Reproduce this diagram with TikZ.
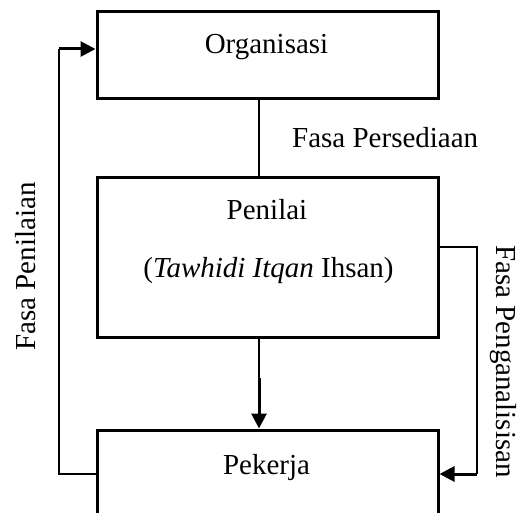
\documentclass[tikz,border=0pt]{standalone}
\usepackage{fontspec}
\setmainfont{Liberation Serif}
\usetikzlibrary{arrows.meta,calc}
\begin{document}
\begin{tikzpicture}[x=1pt,y=-1pt,
 box/.style={draw,line width=3pt,rectangle,inner sep=0,minimum width=341pt},
 txt/.style={font=\fontsize{29}{34}\selectfont,inner sep=0},
 thinline/.style={line width=1.3pt},
 thickline/.style={line width=3pt},
 tip/.style={-{Triangle[length=15pt,width=15pt]}}]
\useasboundingbox (0,0) rectangle (519,513);
\clip (0,0) rectangle (519,513);
\node[box,minimum height=87pt] (org) at (267.5,55.5) {};
\node[box,minimum height=159pt] (pen) at (267.5,257.5) {};
\node[box,minimum height=110pt] (pek) at (267.5,485) {};
\node[txt,anchor=base] (orgt) at (266.5,54) {Organisasi};
\node[txt,anchor=base west] (persed) at (292,148) {Fasa Persediaan};
\node[txt,anchor=base] (pent) at (267,219) {Penilai};
\node[txt,anchor=base] (tih) at (268.5,277) {(\textit{Tawhidi Itqan} Ihsan)};
\node[txt,anchor=base] (pekt) at (266.5,474) {Pekerja};
\node[txt,anchor=base,rotate=90] (fpen) at (35,266.5) {Fasa Penilaian};
\node[txt,anchor=base,rotate=-90] (fpeng) at (496,361.5) {Fasa Penganalisisan};
% connectors
\draw[thinline] ([xshift=-8.5pt]org.south) -- ([xshift=-8.5pt]pen.north);
\coordinate (m) at (259,378);
\draw[thinline] ([xshift=-8.5pt]pen.south) -- (m);
\draw[thickline,tip] (m) -- ([xshift=-8.5pt]pek.north);
\coordinate (lb) at (59,474);
\coordinate (lt) at (59,49);
\draw[thinline] (lb -| pek.west) -- (lb) -- (lt);
\draw[thickline,tip] (lt) -- (lt -| org.west);
\coordinate (rt) at (477,247);
\coordinate (rb) at (477,474);
\draw[thinline] (rt -| pen.east) -- (rt) -- (rb);
\draw[thickline,tip] (rb) -- (rb -| pek.east);
\end{tikzpicture}
\end{document}
